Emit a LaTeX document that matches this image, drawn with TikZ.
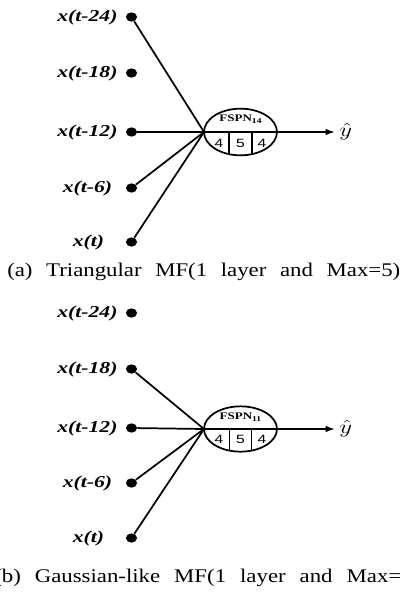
\documentclass[tikz,border=0pt]{standalone}
\usepackage{fontspec}
\usepackage{graphicx}
\setmainfont{Liberation Serif}[FakeStretch=1.3]
\newfontfamily\capfont{Liberation Serif}[FakeStretch=1.18]
\newfontfamily\cellfont{Liberation Sans}[FakeStretch=1.3]
\newcommand{\fsub}[1]{\raisebox{-1.6pt}{\fontsize{5.5}{6}\selectfont #1}}
\usetikzlibrary{positioning,arrows.meta,shapes.geometric}

\begin{document}
\begin{tikzpicture}[
  x=0.75pt, y=-0.75pt,
  dot/.style={ellipse, fill=black, inner sep=0pt, minimum width=8.25pt, minimum height=7pt},
  inp/.style={font=\fontsize{12.5}{13}\selectfont\bfseries\itshape, inner sep=0pt},
  fspn/.style={draw, ellipse, line width=1.3pt, inner sep=0pt, outer sep=0pt,
               minimum width=54.75pt, minimum height=35pt},
  ttl/.style={font=\fontsize{7.5}{8}\selectfont\bfseries, inner sep=0pt},
  cell/.style={font=\cellfont\fontsize{9}{10}\selectfont, inner sep=0pt},
  ln/.style={line width=1.3pt},
  sep/.style={line width=1.1pt},
  ar/.style={-{Latex[length=7pt,width=5pt]}, line width=1.3pt},
  captxt/.style={font=\capfont\fontsize{14.5}{15}\selectfont, inner sep=0pt, anchor=base west},
]
  \useasboundingbox (0,0) rectangle (401,592);

  % (a) triangular MF
  \node[dot] (a1) at (131.5,17) {};
  \node[dot] (a2) at (131.5,73) {};
  \node[dot] (a3) at (131.5,132) {};
  \node[dot] (a4) at (131.5,188) {};
  \node[dot] (a5) at (131.5,242) {};
  \node[inp, left=6pt of a1] (la1) {x(t-24)};
  \node[inp, left=6pt of a2] (la2) {x(t-18)};
  \node[inp, left=6pt of a3] (la3) {x(t-12)};
  \node[inp, left=10pt of a4] (la4) {x(t-6)};
  \node[inp, left=16pt of a5] (la5) {x(t)};

  \node[fspn] (fa) at (240.5,132) {};
  \node[ttl] (ta) at ([yshift=9.4pt]fa.center) {FSPN\fsub{14}};
  \node[cell] (ca1) at ([xshift=-16.1pt,yshift=-8.4pt]fa.center) {4};
  \node[cell] (ca2) at ([yshift=-8.4pt]fa.center) {5};
  \node[cell] (ca3) at ([xshift=16.1pt,yshift=-8.4pt]fa.center) {4};
  \draw[sep] (fa.-117) -- (fa.-117 |- fa.center);
  \draw[sep] (fa.-63) -- (fa.-63 |- fa.center);
  \coordinate (outa) at (335,132);
  \node[inner sep=0pt, right=3pt of outa] (ya)
        {\fontsize{14}{15}\selectfont\scalebox{1.3}[1]{$\hat{y}$}};

  \draw[ln] (a1) -- (fa.west);
  \draw[ln] (a3) -- (fa.west);
  \draw[ln] (a4) -- (fa.west);
  \draw[ln] (a5) -- (fa.west);
  \draw[ar] (fa.west) -- (outa);

  \node[captxt] (capa) at (7,276)
        {\makebox[294.75pt][s]{(a) Triangular MF(1 layer and Max=5)}};

  % (b) Gaussian-like MF
  \node[dot] (b1) at (131.5,313) {};
  \node[dot] (b2) at (131.5,369) {};
  \node[dot] (b3) at (131.5,428) {};
  \node[dot] (b4) at (131.5,483) {};
  \node[dot] (b5) at (131.5,538) {};
  \node[inp, left=6pt of b1] (lb1) {x(t-24)};
  \node[inp, left=6pt of b2] (lb2) {x(t-18)};
  \node[inp, left=6pt of b3] (lb3) {x(t-12)};
  \node[inp, left=10pt of b4] (lb4) {x(t-6)};
  \node[inp, left=16pt of b5] (lb5) {x(t)};

  \node[fspn, minimum height=34pt] (fb) at (240.5,429) {};
  \node[ttl] (tb) at ([yshift=9pt]fb.center) {FSPN\fsub{11}};
  \node[cell] (cb1) at ([xshift=-16.1pt,yshift=-8pt]fb.center) {4};
  \node[cell] (cb2) at ([yshift=-8pt]fb.center) {5};
  \node[cell] (cb3) at ([xshift=16.1pt,yshift=-8pt]fb.center) {4};
  \draw[sep] (fb.-117) -- (fb.-117 |- fb.center);
  \draw[sep] (fb.-63) -- (fb.-63 |- fb.center);
  \coordinate (outb) at (335,429);
  \node[inner sep=0pt, right=3pt of outb] (yb)
        {\fontsize{14}{15}\selectfont\scalebox{1.3}[1]{$\hat{y}$}};

  \draw[ln] (b2) -- (fb.west);
  \draw[ln] (b3) -- (fb.west);
  \draw[ln] (b4) -- (fb.west);
  \draw[ln] (b5) -- (fb.west);
  \draw[ar] (fb.west) -- (outb);

  \node[captxt] (capb) at (-6,582)
        {\makebox[319.5pt][s]{(b) Gaussian-like MF(1 layer and Max=5)}};
\end{tikzpicture}
\end{document}
